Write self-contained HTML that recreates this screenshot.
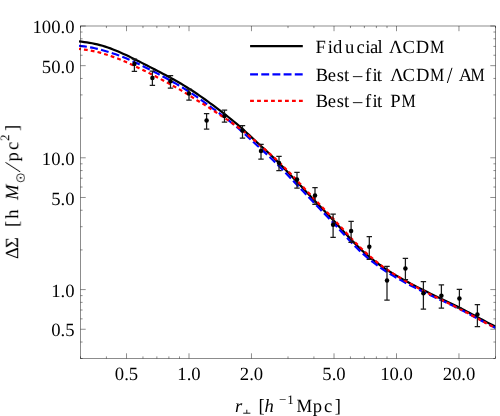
<!DOCTYPE html><html><head><meta charset="utf-8"><style>html,body{margin:0;padding:0;background:#fff}</style></head><body><svg width="500" height="416" viewBox="0 0 500 416" style="display:block;font-family:'Liberation Serif',serif;text-rendering:geometricPrecision">
<rect width="500" height="416" fill="#fff"/>
<defs><clipPath id="c"><rect x="78.8" y="26.0" width="416.7" height="332.5"/></clipPath></defs>
<g clip-path="url(#c)" fill="none">
<path d="M79.00,41.42 L81.62,41.71 L84.24,42.04 L86.86,42.41 L89.48,42.82 L92.10,43.29 L94.72,43.82 L97.34,44.41 L99.96,45.07 L102.58,45.80 L105.19,46.60 L107.81,47.47 L110.43,48.41 L113.05,49.40 L115.67,50.46 L118.29,51.56 L120.91,52.71 L123.53,53.90 L126.15,55.12 L128.77,56.36 L131.39,57.63 L134.01,58.92 L136.63,60.22 L139.25,61.53 L141.87,62.86 L144.49,64.19 L147.11,65.53 L149.73,66.87 L152.35,68.22 L154.97,69.57 L157.58,70.93 L160.20,72.30 L162.82,73.68 L165.44,75.07 L168.06,76.47 L170.68,77.89 L173.30,79.33 L175.92,80.79 L178.54,82.29 L181.16,83.82 L183.78,85.38 L186.40,86.98 L189.02,88.62 L191.64,90.30 L194.26,92.01 L196.88,93.77 L199.50,95.56 L202.12,97.39 L204.74,99.25 L207.36,101.14 L209.97,103.05 L212.59,104.99 L215.21,106.95 L217.83,108.92 L220.45,110.91 L223.07,112.92 L225.69,114.95 L228.31,117.01 L230.93,119.11 L233.55,121.25 L236.17,123.45 L238.79,125.70 L241.41,128.01 L244.03,130.37 L246.65,132.76 L249.27,135.18 L251.89,137.61 L254.51,140.03 L257.13,142.44 L259.75,144.84 L262.36,147.24 L264.98,149.64 L267.60,152.05 L270.22,154.50 L272.84,157.00 L275.46,159.54 L278.08,162.13 L280.70,164.78 L283.32,167.46 L285.94,170.18 L288.56,172.93 L291.18,175.70 L293.80,178.47 L296.42,181.26 L299.04,184.05 L301.66,186.85 L304.28,189.63 L306.90,192.42 L309.52,195.19 L312.14,197.96 L314.75,200.73 L317.37,203.48 L319.99,206.24 L322.61,208.99 L325.23,211.74 L327.85,214.49 L330.47,217.26 L333.09,220.04 L335.71,222.84 L338.33,225.67 L340.95,228.52 L343.57,231.39 L346.19,234.25 L348.81,237.10 L351.43,239.90 L354.05,242.63 L356.67,245.29 L359.29,247.86 L361.91,250.34 L364.53,252.73 L367.14,255.03 L369.76,257.24 L372.38,259.36 L375.00,261.41 L377.62,263.37 L380.24,265.26 L382.86,267.09 L385.48,268.85 L388.10,270.55 L390.72,272.21 L393.34,273.82 L395.96,275.39 L398.58,276.92 L401.20,278.42 L403.82,279.88 L406.44,281.32 L409.06,282.74 L411.68,284.13 L414.30,285.51 L416.92,286.86 L419.53,288.20 L422.15,289.52 L424.77,290.82 L427.39,292.11 L430.01,293.38 L432.63,294.65 L435.25,295.90 L437.87,297.14 L440.49,298.38 L443.11,299.62 L445.73,300.87 L448.35,302.13 L450.97,303.40 L453.59,304.69 L456.21,305.99 L458.83,307.31 L461.45,308.65 L464.07,310.01 L466.69,311.38 L469.31,312.77 L471.92,314.18 L474.54,315.59 L477.16,317.01 L479.78,318.43 L482.40,319.84 L485.02,321.24 L487.64,322.63 L490.26,323.99 L492.88,325.32 L495.50,326.60" stroke="#000" stroke-width="2.2"/>
<path d="M79.00,45.72 L81.62,46.04 L84.24,46.39 L86.86,46.77 L89.48,47.20 L92.10,47.68 L94.72,48.21 L97.34,48.81 L99.96,49.47 L102.58,50.20 L105.19,51.00 L107.81,51.79 L110.43,52.60 L113.05,53.43 L115.67,54.29 L118.29,55.20 L120.91,56.16 L123.53,57.20 L126.15,58.31 L128.77,59.48 L131.39,60.67 L134.01,61.88 L136.63,63.11 L139.25,64.36 L141.87,65.64 L144.49,66.93 L147.11,68.24 L149.73,69.57 L152.35,70.92 L154.97,72.28 L157.58,73.65 L160.20,75.03 L162.82,76.43 L165.44,77.84 L168.06,79.26 L170.68,80.70 L173.30,82.17 L175.92,83.66 L178.54,85.18 L181.16,86.73 L183.78,88.32 L186.40,89.96 L189.02,91.65 L191.64,93.37 L194.26,95.13 L196.88,96.93 L199.50,98.77 L202.12,100.63 L204.74,102.52 L207.36,104.43 L209.97,106.35 L212.59,108.29 L215.21,110.23 L217.83,112.19 L220.45,114.16 L223.07,116.14 L225.69,118.15 L228.31,120.18 L230.93,122.25 L233.55,124.36 L236.17,126.53 L238.79,128.76 L241.41,131.05 L244.03,133.39 L246.65,135.77 L249.27,138.18 L251.89,140.61 L254.51,143.03 L257.13,145.44 L259.75,147.84 L262.36,150.24 L264.98,152.64 L267.60,155.05 L270.22,157.50 L272.84,160.00 L275.46,162.54 L278.08,165.13 L280.70,167.78 L283.32,170.46 L285.94,173.18 L288.56,175.93 L291.18,178.70 L293.80,181.47 L296.42,184.26 L299.04,187.05 L301.66,189.82 L304.28,192.60 L306.90,195.36 L309.52,198.11 L312.14,200.85 L314.75,203.58 L317.37,206.31 L319.99,209.03 L322.61,211.75 L325.23,214.48 L327.85,217.21 L330.47,219.96 L333.09,222.72 L335.71,225.50 L338.33,228.32 L340.95,231.15 L343.57,234.00 L346.19,236.85 L348.81,239.68 L351.43,242.46 L354.05,245.18 L356.67,247.82 L359.29,250.37 L361.91,252.83 L364.53,255.19 L367.14,257.46 L369.76,259.64 L372.38,261.73 L375.00,263.74 L377.62,265.67 L380.24,267.53 L382.86,269.32 L385.48,271.04 L388.10,272.71 L390.72,274.33 L393.34,275.91 L395.96,277.44 L398.58,278.94 L401.20,280.40 L403.82,281.83 L406.44,283.24 L409.06,284.62 L411.68,285.97 L414.30,287.30 L416.92,288.62 L419.53,289.92 L422.15,291.20 L424.77,292.47 L427.39,293.73 L430.01,294.97 L432.63,296.20 L435.25,297.43 L437.87,298.65 L440.49,299.88 L443.11,301.11 L445.73,302.34 L448.35,303.58 L450.97,304.84 L453.59,306.11 L456.21,307.40 L458.83,308.71 L461.45,310.04 L464.07,311.38 L466.69,312.75 L469.31,314.13 L471.92,315.52 L474.54,316.93 L477.16,318.34 L479.78,319.75 L482.40,321.16 L485.02,322.55 L487.64,323.94 L490.26,325.29 L492.88,326.62 L495.50,327.90" stroke="#0000ff" stroke-width="2.2" stroke-dasharray="7.9 3.3"/>
<path d="M79.00,48.82 L81.62,49.17 L84.24,49.54 L86.86,49.94 L89.48,50.38 L92.10,50.86 L94.72,51.41 L97.34,52.01 L99.96,52.67 L102.58,53.40 L105.19,54.20 L107.81,55.05 L110.43,55.92 L113.05,56.84 L115.67,57.79 L118.29,58.79 L120.91,59.84 L123.53,60.94 L126.15,62.09 L128.77,63.26 L131.39,64.46 L134.01,65.68 L136.63,66.92 L139.25,68.17 L141.87,69.44 L144.49,70.73 L147.11,72.04 L149.73,73.37 L152.35,74.72 L154.97,76.08 L157.58,77.46 L160.20,78.84 L162.82,80.23 L165.44,81.63 L168.06,83.05 L170.68,84.48 L173.30,85.93 L175.92,87.39 L178.54,88.89 L181.16,90.41 L183.78,91.96 L186.40,93.55 L189.02,95.17 L191.64,96.83 L194.26,98.52 L196.88,100.19 L199.50,101.75 L202.12,103.28 L204.74,104.87 L207.36,106.56 L209.97,108.30 L212.59,110.05 L215.21,111.79 L217.83,113.54 L220.45,115.25 L223.07,116.94 L225.69,118.63 L228.31,120.37 L230.93,122.16 L233.55,124.00 L236.17,125.89 L238.79,127.84 L241.41,129.85 L244.03,131.88 L246.65,133.94 L249.27,136.04 L251.89,138.18 L254.51,140.36 L257.13,142.59 L259.75,144.84 L262.36,147.09 L264.98,149.36 L267.60,151.66 L270.22,153.99 L272.84,156.37 L275.46,158.79 L278.08,161.26 L280.70,163.79 L283.32,166.36 L285.94,168.98 L288.56,171.64 L291.18,174.35 L293.80,177.08 L296.42,179.85 L299.04,182.63 L301.66,185.41 L304.28,188.19 L306.90,190.96 L309.52,193.73 L312.14,196.49 L314.75,199.25 L317.37,202.00 L319.99,204.74 L322.61,207.49 L325.23,210.24 L327.85,212.99 L330.47,215.76 L333.09,218.54 L335.71,221.34 L338.33,224.17 L340.95,227.02 L343.57,229.89 L346.19,232.75 L348.81,235.60 L351.43,238.40 L354.05,241.13 L356.67,243.80 L359.29,246.41 L361.91,248.96 L364.53,251.44 L367.14,253.84 L369.76,256.16 L372.38,258.38 L375.00,260.53 L377.62,262.63 L380.24,264.65 L382.86,266.60 L385.48,268.46 L388.10,270.25 L390.72,271.98 L393.34,273.65 L395.96,275.28 L398.58,276.88 L401.20,278.45 L403.82,280.00 L406.44,281.52 L409.06,283.02 L411.68,284.50 L414.30,285.95 L416.92,287.38 L419.53,288.78 L422.15,290.17 L424.77,291.54 L427.39,292.89 L430.01,294.22 L432.63,295.54 L435.25,296.83 L437.87,298.12 L440.49,299.39 L443.11,300.65 L445.73,301.92 L448.35,303.20 L450.97,304.50 L453.59,305.80 L456.21,307.13 L458.83,308.47 L461.45,309.83 L464.07,311.20 L466.69,312.59 L469.31,314.00 L471.92,315.42 L474.54,316.84 L477.16,318.27 L479.78,319.70 L482.40,321.12 L485.02,322.53 L487.64,323.92 L490.26,325.29 L492.88,326.62 L495.50,327.90" stroke="#ff0000" stroke-width="2.2" stroke-dasharray="3.8 3.1" stroke-dashoffset="1.9"/>
</g>
<g stroke="#1a1a1a" stroke-width="1.25" fill="none">
<path d="M134.4,59V71.4M131.70000000000002,59H137.1M131.70000000000002,71.4H137.1"/>
<path d="M152.4,71V85.4M149.70000000000002,71H155.1M149.70000000000002,85.4H155.1"/>
<path d="M170.5,75.6V88M167.8,75.6H173.2M167.8,88H173.2"/>
<path d="M189,89V100M186.3,89H191.7M186.3,100H191.7"/>
<path d="M206.6,113.6V129M203.9,113.6H209.29999999999998M203.9,129H209.29999999999998"/>
<path d="M224.5,110.1V122.2M221.8,110.1H227.2M221.8,122.2H227.2"/>
<path d="M242.5,125.6V138M239.8,125.6H245.2M239.8,138H245.2"/>
<path d="M261,144.4V159M258.3,144.4H263.7M258.3,159H263.7"/>
<path d="M279,156.4V170.6M276.3,156.4H281.7M276.3,170.6H281.7"/>
<path d="M297,172.4V188M294.3,172.4H299.7M294.3,188H299.7"/>
<path d="M315,187.6V204.4M312.3,187.6H317.7M312.3,204.4H317.7"/>
<path d="M333.1,214.2V237.4M330.40000000000003,214.2H335.8M330.40000000000003,237.4H335.8"/>
<path d="M351.1,221.4V242.4M348.40000000000003,221.4H353.8M348.40000000000003,242.4H353.8"/>
<path d="M369.3,236.6V259.3M366.6,236.6H372.0M366.6,259.3H372.0"/>
<path d="M387,266.4V300M384.3,266.4H389.7M384.3,300H389.7"/>
<path d="M405.4,258.4V279.6M402.7,258.4H408.09999999999997M402.7,279.6H408.09999999999997"/>
<path d="M423.4,281.5V309.1M420.7,281.5H426.09999999999997M420.7,309.1H426.09999999999997"/>
<path d="M441.4,284.8V308.1M438.7,284.8H444.09999999999997M438.7,308.1H444.09999999999997"/>
<path d="M459.4,289.4V308M456.7,289.4H462.09999999999997M456.7,308H462.09999999999997"/>
<path d="M477.4,304.6V326.6M474.7,304.6H480.09999999999997M474.7,326.6H480.09999999999997"/>
</g><g fill="#000">
<circle cx="134.4" cy="64" r="2.25"/>
<circle cx="152.4" cy="78" r="2.25"/>
<circle cx="170.5" cy="81.3" r="2.25"/>
<circle cx="189" cy="93.6" r="2.25"/>
<circle cx="206.6" cy="120.6" r="2.25"/>
<circle cx="224.5" cy="116.1" r="2.25"/>
<circle cx="242.5" cy="130.5" r="2.25"/>
<circle cx="261" cy="151" r="2.25"/>
<circle cx="279" cy="163" r="2.25"/>
<circle cx="297" cy="179.6" r="2.25"/>
<circle cx="315" cy="195.6" r="2.25"/>
<circle cx="333.1" cy="224.8" r="2.25"/>
<circle cx="351.1" cy="230.9" r="2.25"/>
<circle cx="369.3" cy="246.7" r="2.25"/>
<circle cx="387" cy="280.4" r="2.25"/>
<circle cx="405.4" cy="268.5" r="2.25"/>
<circle cx="423.4" cy="293.3" r="2.25"/>
<circle cx="441.4" cy="295.7" r="2.25"/>
<circle cx="459.4" cy="298.4" r="2.25"/>
<circle cx="477.4" cy="314.4" r="2.25"/>
</g>
<g stroke="#000" stroke-width="0.45" fill="none">
<rect x="80.5" y="26.0" width="415.0" height="332.5"/>
<path d="M126.53,358.5v-5.2M126.53,26.0v5.2M189.00,358.5v-5.2M189.00,26.0v5.2M251.46,358.5v-5.2M251.46,26.0v5.2M334.03,358.5v-5.2M334.03,26.0v5.2M396.50,358.5v-5.2M396.50,26.0v5.2M458.96,358.5v-5.2M458.96,26.0v5.2M80.50,358.5v-2.1M80.50,26.0v2.1M495.50,358.5v-2.1M495.50,26.0v2.1M106.42,358.5v-2.1M106.42,26.0v2.1M142.96,358.5v-2.1M142.96,26.0v2.1M156.86,358.5v-2.1M156.86,26.0v2.1M168.89,358.5v-2.1M168.89,26.0v2.1M179.50,358.5v-2.1M179.50,26.0v2.1M288.00,358.5v-2.1M288.00,26.0v2.1M313.92,358.5v-2.1M313.92,26.0v2.1M350.46,358.5v-2.1M350.46,26.0v2.1M364.36,358.5v-2.1M364.36,26.0v2.1M376.39,358.5v-2.1M376.39,26.0v2.1M387.00,358.5v-2.1M387.00,26.0v2.1M80.5,329.26h5.2M495.5,329.26h-5.2M80.5,289.59h5.2M495.5,289.59h-5.2M80.5,197.47h5.2M495.5,197.47h-5.2M80.5,157.79h5.2M495.5,157.79h-5.2M80.5,65.67h5.2M495.5,65.67h-5.2M80.5,26.00h5.2M495.5,26.00h-5.2M80.5,358.50h2.1M495.5,358.50h-2.1M80.5,342.03h2.1M495.5,342.03h-2.1M80.5,318.83h2.1M495.5,318.83h-2.1M80.5,310.00h2.1M495.5,310.00h-2.1M80.5,302.36h2.1M495.5,302.36h-2.1M80.5,295.62h2.1M495.5,295.62h-2.1M80.5,249.91h2.1M495.5,249.91h-2.1M80.5,226.71h2.1M495.5,226.71h-2.1M80.5,210.24h2.1M495.5,210.24h-2.1M80.5,187.03h2.1M495.5,187.03h-2.1M80.5,178.21h2.1M495.5,178.21h-2.1M80.5,170.57h2.1M495.5,170.57h-2.1M80.5,163.82h2.1M495.5,163.82h-2.1M80.5,118.12h2.1M495.5,118.12h-2.1M80.5,94.91h2.1M495.5,94.91h-2.1M80.5,78.45h2.1M495.5,78.45h-2.1M80.5,55.24h2.1M495.5,55.24h-2.1M80.5,46.42h2.1M495.5,46.42h-2.1M80.5,38.77h2.1M495.5,38.77h-2.1M80.5,32.03h2.1M495.5,32.03h-2.1"/></g>
<g font-size="18.7" fill="#000" style="filter:grayscale(1)">
<text x="126.5" y="380.3" text-anchor="middle">0.5</text>
<text x="189.0" y="380.3" text-anchor="middle">1.0</text>
<text x="251.5" y="380.3" text-anchor="middle">2.0</text>
<text x="334.0" y="380.3" text-anchor="middle">5.0</text>
<text x="396.5" y="380.3" text-anchor="middle">10.0</text>
<text x="459.0" y="380.3" text-anchor="middle">20.0</text>
<text x="74.5" y="336.3" text-anchor="end">0.5</text>
<text x="74.5" y="296.6" text-anchor="end">1.0</text>
<text x="74.5" y="204.5" text-anchor="end">5.0</text>
<text x="74.5" y="164.8" text-anchor="end">10.0</text>
<text x="74.5" y="72.7" text-anchor="end">50.0</text>
<text x="74.5" y="33.0" text-anchor="end">100.0</text>
</g>
<g fill="none" stroke-width="2.2">
<path d="M250.1,46.2H302.8" stroke="#000"/>
<path d="M250.1,74.4H302.8" stroke="#0000ff" stroke-dasharray="7.9 3.27"/>
<path d="M250.1,100.9H302.8" stroke="#ff0000" stroke-dasharray="3.8 3.18"/>
</g>
<g font-size="18.6" fill="#000" style="filter:grayscale(1)">
<text y="52.9" x="315.4 327.8 333.1 345.1 356.5 365.2 370.1 377.5 380.5 389.0 402.4 415.7">Fiducial ΛCD</text><text transform="translate(430.1,52.9) scale(0.86,1)">M</text>
<text y="80.8" x="315.7 327.7 336.7 344.0 353.0 364.9 372.4 376.8 379.8 390.2 402.6 415.9">Best–fit ΛCD</text><text transform="translate(429.9,80.8) scale(0.86,1)">M</text><path d="M447.3,83 L452.0,67.8" stroke="#000" stroke-width="1" fill="none"/><text y="80.8" x="458.8">A</text><text transform="translate(470.4,80.8) scale(0.86,1)">M</text>
<text y="107.3" x="315.7 327.7 336.7 344.0 353.1 365.0 372.6 377.0 380.0 390.3">Best–fit P</text><text transform="translate(401.5,107.3) scale(0.86,1)">M</text>
</g>
<g font-size="18.6" fill="#000" style="filter:grayscale(1)">
<text y="411.8" x="235.0" font-style="italic">r</text>
<path d="M243.2,413.2H250.4M246.8,409.7V413.2" stroke="#000" stroke-width="0.9" fill="none"/>
<text y="411.8" x="258.4">[</text>
<text y="411.8" x="264.6" font-style="italic">h</text>
<text y="404.3" x="279.0 287.2" font-size="13">−1</text>
<text transform="translate(296.5,411.8) scale(0.95,1)">M</text><text y="411.8" x="312.8 323.9 334.7">pc]</text>
<g transform="translate(18.2,260) rotate(-90)">
<text y="0" x="0.9 12.0">ΔΣ</text>
<text y="0" x="33.1 41.2">[h</text>
<text y="0" x="59.9" font-style="italic">M</text>
<circle cx="82.2" cy="2.5" r="4" fill="none" stroke="#000" stroke-width="0.8"/><circle cx="82.2" cy="2.5" r="0.9" fill="#000"/>
<path d="M88.2,2 L97.6,-12.6" stroke="#000" stroke-width="1" fill="none"/><text y="0" x="98.5 110.1">pc</text>
<text y="-9.2" x="118.9" font-size="13">2</text>
<text y="0" x="129.0">]</text>
</g></g>
</svg></body></html>
